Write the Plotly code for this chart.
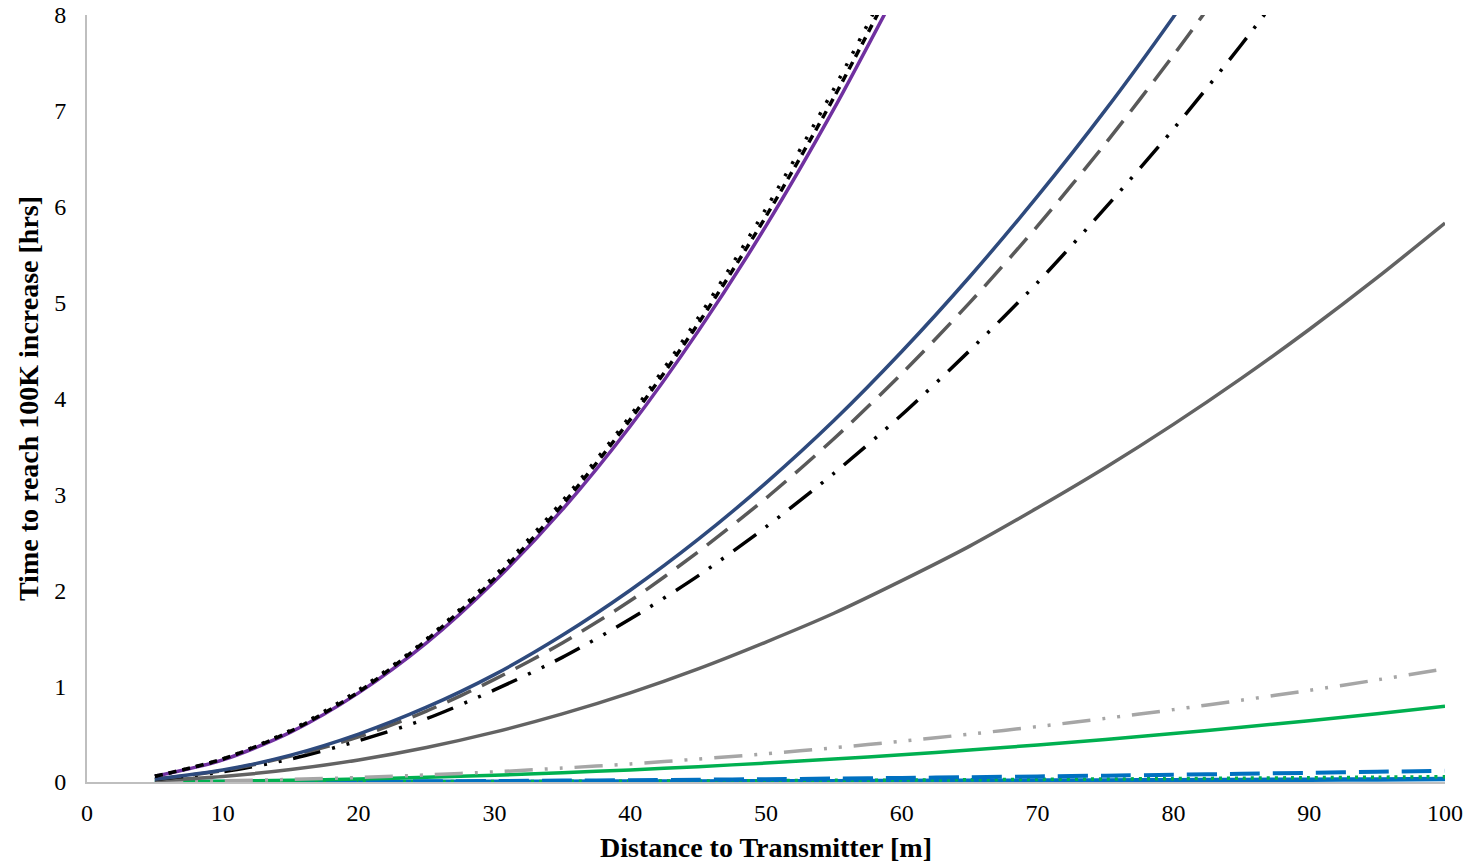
import plotly.graph_objects as go

# Distance to transmitter [m]
distance = [5, 10, 15, 20, 25, 30, 35, 40, 45, 50, 55, 60, 65, 70, 75, 80, 85, 90, 95, 100]

# Time to reach a 100 K temperature increase [hrs], one list per configuration
black_dot = [0.06, 0.24, 0.54, 0.96, 1.49, 2.15, 2.93, 3.82, 4.84, 5.98, 7.23, 8.60]
black_dash = [0.06, 0.24, 0.53, 0.94, 1.48, 2.12, 2.89, 3.78, 4.78, 5.90, 7.14, 8.50]
purple_solid = [0.06, 0.23, 0.52, 0.93, 1.45, 2.09, 2.84, 3.71, 4.70, 5.80, 7.02, 8.35]
navy_solid = [0.03, 0.125, 0.28, 0.50, 0.78, 1.12, 1.53, 2.00, 2.53, 3.12, 3.77, 4.49,
              5.27, 6.11, 7.01, 7.98, 9.01]
grey_dash = [0.03, 0.118, 0.27, 0.47, 0.74, 1.07, 1.45, 1.89, 2.40, 2.96, 3.58, 4.26,
             5.00, 5.80, 6.66, 7.58, 8.55]
black_dashdotdot = [0.027, 0.106, 0.24, 0.43, 0.66, 0.96, 1.30, 1.70, 2.15, 2.66, 3.22,
                    3.83, 4.50, 5.21, 5.99, 6.81, 7.69, 8.62]
darkgrey_solid = [0.015, 0.058, 0.13, 0.23, 0.36, 0.52, 0.71, 0.93, 1.18, 1.46, 1.76,
                  2.10, 2.46, 2.86, 3.28, 3.73, 4.21, 4.72, 5.26, 5.83]
lightgrey_dashdotdot = [0.003, 0.012, 0.027, 0.047, 0.074, 0.106, 0.145, 0.189, 0.239,
                        0.295, 0.357, 0.425, 0.499, 0.578, 0.664, 0.755, 0.853, 0.956,
                        1.065, 1.18]
green_solid = [0.002, 0.008, 0.018, 0.032, 0.049, 0.071, 0.097, 0.126, 0.160, 0.198,
               0.239, 0.284, 0.334, 0.387, 0.444, 0.506, 0.571, 0.640, 0.713, 0.79]
blue_dash = [0.0003, 0.0012, 0.0027, 0.0047, 0.0074, 0.0106, 0.0145, 0.0189, 0.0239,
             0.0295, 0.0357, 0.0425, 0.0499, 0.0578, 0.0664, 0.0755, 0.0853, 0.0956,
             0.1065, 0.118]
green_dot = [0.0001, 0.0006, 0.0012, 0.0022, 0.0034, 0.005, 0.0067, 0.0088, 0.011, 0.014,
             0.017, 0.020, 0.023, 0.027, 0.031, 0.035, 0.040, 0.045, 0.050, 0.055]
blue_solid = [0.0001, 0.0003, 0.0007, 0.0012, 0.0019, 0.0027, 0.0037, 0.0048, 0.0061,
              0.0075, 0.0091, 0.0108, 0.0127, 0.0147, 0.0169, 0.0192, 0.0217, 0.0243,
              0.0271, 0.03]

x_ticks = [0, 10, 20, 30, 40, 50, 60, 70, 80, 90, 100]
y_ticks = [0, 1, 2, 3, 4, 5, 6, 7, 8]

# (values, colour, width, dash) in drawing order
series = [
    (blue_solid, "#0070C0", 4.5, "solid"),
    (green_dot, "#00B050", 3.5, "3px,5px"),
    (blue_dash, "#0070C0", 4, "30px,13px"),
    (green_solid, "#00B050", 3.5, "solid"),
    (lightgrey_dashdotdot, "#A6A6A6", 3.5, "28px,12px,3px,12px,3px,12px"),
    (darkgrey_solid, "#636363", 3.5, "solid"),
    (black_dashdotdot, "#000000", 3.5, "28px,12px,3px,12px,3px,12px"),
    (grey_dash, "#595959", 3.5, "26px,12px"),
    (navy_solid, "#2E4A7D", 3.5, "solid"),
    (purple_solid, "#7030A0", 3.5, "solid"),
    (black_dash, "#000000", 3.5, "8px,6px"),
    (black_dot, "#000000", 3.5, "3px,11px"),
]

fig = go.Figure()
for values, colour, width, dash in series:
    fig.add_trace(go.Scatter(
        x=distance[:len(values)],
        y=values,
        mode="lines",
        line=dict(color=colour, width=width, dash=dash, shape="spline", smoothing=0.8),
        showlegend=False,
        hoverinfo="x+y",
    ))

font_family = "Liberation Serif"

fig.update_layout(
    width=1471,
    height=865,
    margin=dict(l=87, r=26, t=15, b=83, autoexpand=False),
    paper_bgcolor="white",
    plot_bgcolor="white",
    font=dict(family=font_family, size=24, color="#000000"),
    showlegend=False,
)

fig.update_xaxes(
    range=[0, 100],
    tickvals=x_ticks,
    ticktext=[str(v) for v in x_ticks],
    showgrid=False,
    zeroline=False,
    showline=True,
    linecolor="#BFBFBF",
    linewidth=2,
    ticks="outside",
    ticklen=8,
    tickcolor="rgba(0,0,0,0)",
    tickfont=dict(family=font_family, size=24),
    automargin=False,
    title=dict(text="<b>Distance to Transmitter [m]</b>",
               font=dict(family=font_family, size=28), standoff=13),
)

fig.update_yaxes(
    range=[0, 8],
    tickvals=y_ticks,
    ticktext=[str(v) for v in y_ticks],
    showgrid=False,
    zeroline=False,
    showline=True,
    linecolor="#BFBFBF",
    linewidth=2,
    ticks="outside",
    ticklen=14,
    tickcolor="rgba(0,0,0,0)",
    tickfont=dict(family=font_family, size=24),
    automargin=False,
    title=dict(text="<b>Time to reach 100K increase [hrs]</b>",
               font=dict(family=font_family, size=28), standoff=7),
)

fig.write_html("out.html")
